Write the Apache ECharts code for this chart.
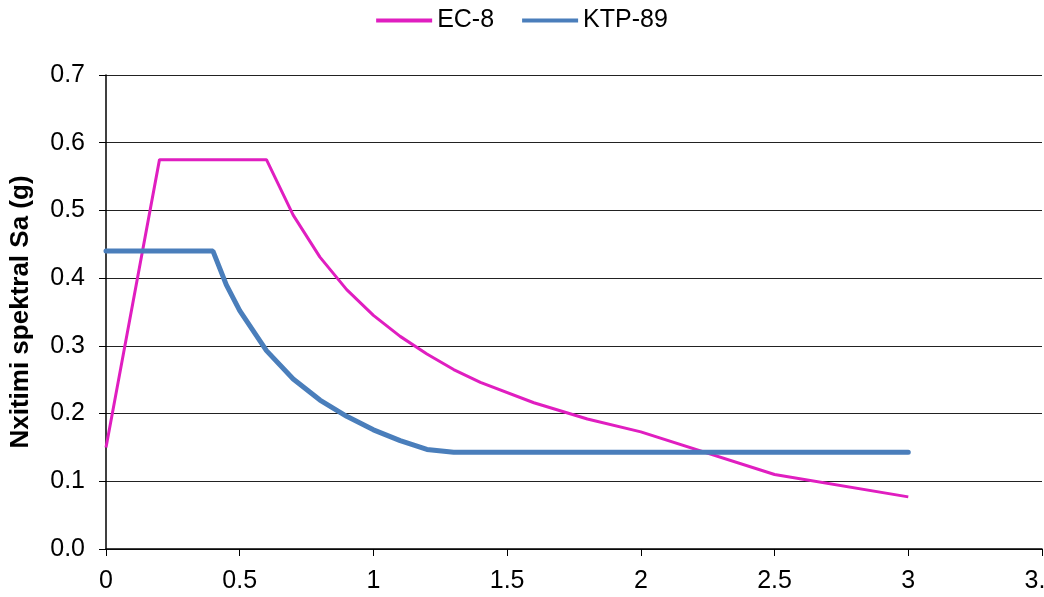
<!DOCTYPE html>
<html>
<head>
<meta charset="utf-8">
<script src="https://cdn.jsdelivr.net/npm/echarts@6/dist/echarts.min.js"></script>
<style>
  html, body { margin: 0; padding: 0; background: #fff; }
  #main { width: 1044px; height: 597px; }
</style>
</head>
<body>
<div id="main"></div>
<script>
// periods T (s) and spectral acceleration Sa (g)
var ec8T  = [0, 0.2, 0.6, 0.7, 0.8, 0.9, 1.0, 1.1, 1.2, 1.3, 1.4, 1.6, 1.8, 2.0, 2.5, 3.0];
var ec8Sa = [0.15, 0.575, 0.575, 0.493, 0.431, 0.383, 0.345, 0.314, 0.288, 0.265, 0.246, 0.216, 0.192, 0.173, 0.110, 0.077];
var ktpT  = [0, 0.4, 0.45, 0.5, 0.6, 0.7, 0.8, 0.9, 1.0, 1.1, 1.2, 1.3, 2.0, 3.0];
var ktpSa = [0.44, 0.44, 0.39, 0.352, 0.293, 0.251, 0.22, 0.196, 0.176, 0.16, 0.147, 0.143, 0.143, 0.143];

function pairs(xs, ys) {
  var out = [];
  for (var i = 0; i < xs.length; i++) out.push([xs[i], ys[i]]);
  return out;
}

var myChart = echarts.init(document.getElementById('main'));

var option = {
  animation: false,
  textStyle: { fontFamily: 'Liberation Sans, Arial, sans-serif' },
  legend: {
    top: 3,
    left: 'center',
    icon: 'rect',
    itemWidth: 56,
    itemHeight: 4,
    itemGap: 28,
    textStyle: { fontSize: 25, color: '#000' },
    data: ['EC-8', 'KTP-89']
  },
  grid: { left: 106, right: 2, top: 75, bottom: 48, outerBoundsMode: 'none', containLabel: false },
  xAxis: {
    type: 'value',
    min: 0,
    max: 3.5,
    interval: 0.5,
    axisLine: { lineStyle: { color: '#000', width: 1.5 } },
    axisTick: { show: true, length: 7, lineStyle: { color: '#000' } },
    axisLabel: { fontSize: 25, color: '#000', margin: 20, showMaxLabel: true },
    splitLine: { show: false }
  },
  yAxis: {
    type: 'value',
    min: 0,
    max: 0.7,
    interval: 0.1,
    name: 'Nxitimi spektral Sa (g)',
    nameLocation: 'middle',
    nameGap: 72,
    nameTextStyle: { fontSize: 26, fontWeight: 'bold', color: '#000' },
    axisLine: { show: true, lineStyle: { color: '#000', width: 1.5 } },
    axisTick: { show: true, length: 7, lineStyle: { color: '#000' } },
    axisLabel: {
      fontSize: 25, color: '#000', margin: 21,
      formatter: function (v) { return v.toFixed(1); }
    },
    splitLine: { show: true, lineStyle: { color: '#222', width: 1 } }
  },
  series: [
    {
      name: 'EC-8',
      type: 'line',
      symbol: 'none',
      color: '#E01EC0',
      lineStyle: { width: 3, color: '#E01EC0' },
      data: pairs(ec8T, ec8Sa)
    },
    {
      name: 'KTP-89',
      type: 'line',
      symbol: 'none',
      color: '#4A7EBB',
      lineStyle: { width: 5, color: '#4A7EBB', cap: 'round' },
      data: pairs(ktpT, ktpSa)
    }
  ]
};

myChart.setOption(option);
</script>
</body>
</html>
